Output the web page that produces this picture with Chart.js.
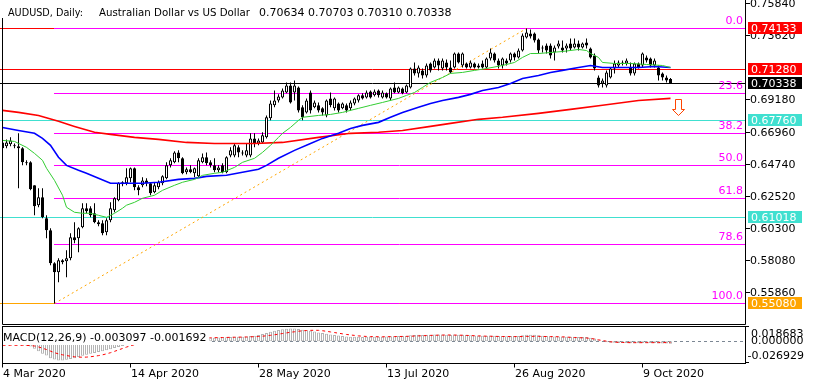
<!DOCTYPE html>
<html><head><meta charset="utf-8">
<script src="https://cdn.jsdelivr.net/npm/chart.js@4.4.1/dist/chart.umd.min.js"></script>
<style>
html,body{margin:0;padding:0;background:#fff;}
#wrap{position:relative;width:815px;height:387px;overflow:hidden;}
canvas{position:absolute;left:0;top:0;}
</style></head><body>
<div id="wrap"><canvas id="main" width="815" height="387"></canvas><canvas id="macd" width="815" height="387"></canvas></div>
<script>
// ---------- DATA ----------
const headerSymbol = 'AUDUSD, Daily:';
const headerName = 'Australian Dollar vs US Dollar';
const dateLabels = ['4 Mar 2020','14 Apr 2020','28 May 2020','13 Jul 2020','26 Aug 2020','9 Oct 2020'];
const dateTickBars = [0,32,64,96,128,160];
const priceTicks = [0.7584,0.7362,0.6918,0.6696,0.6474,0.6252,0.6030,0.5808,0.5586];

const opens = [0.6624,0.6597,0.6611,0.6604,0.6597,0.6583,0.6486,0.6486,0.6327,0.6189,
0.6244,0.6098,0.6015,0.5787,0.5725,0.5808,0.5801,0.5822,0.5967,0.5960,
0.6036,0.6168,0.6168,0.6133,0.6071,0.6064,0.6002,0.6085,0.6154,0.6223,
0.6348,0.6341,0.6375,0.6445,0.6313,0.6327,0.6361,0.6341,0.6279,0.6313,
0.6341,0.6375,0.6465,0.6486,0.6555,0.6514,0.6417,0.6438,0.6410,0.6389,
0.6486,0.6521,0.6486,0.6465,0.6431,0.6465,0.6417,0.6534,0.6534,0.6590,
0.6555,0.6534,0.6534,0.6652,0.6617,0.6624,0.6659,0.6791,0.6881,0.6915,
0.6936,0.6970,0.7019,0.6970,0.7005,0.6867,0.6832,0.6970,0.6867,0.6881,
0.6860,0.6811,0.6929,0.6860,0.6894,0.6860,0.6881,0.6860,0.6894,0.6915,
0.6950,0.6936,0.6977,0.6950,0.6984,0.6936,0.6964,0.6929,0.7005,0.6970,
0.6998,0.6970,0.7005,0.7136,0.7102,0.7123,0.7088,0.7171,0.7143,0.7192,
0.7136,0.7178,0.7143,0.7143,0.7240,0.7157,0.7171,0.7143,0.7171,0.7143,
0.7171,0.7143,0.7206,0.7240,0.7192,0.7157,0.7192,0.7192,0.7240,0.7213,
0.7261,0.7351,0.7379,0.7379,0.7337,0.7275,0.7296,0.7296,0.7247,0.7289,
0.7282,0.7275,0.7310,0.7282,0.7310,0.7282,0.7316,0.7275,0.7226,0.7074,
0.7033,0.7019,0.7074,0.7136,0.7157,0.7178,0.7171,0.7143,0.7102,0.7171,
0.7157,0.7213,0.7206,0.7157,0.7143,0.7102,0.7074,0.70634];
const highs = [0.6638,0.6645,0.6659,0.6617,0.6687,0.6590,0.6500,0.6493,0.6327,0.6306,
0.6306,0.6119,0.6029,0.5794,0.5822,0.5815,0.5877,0.5995,0.6071,0.6036,
0.6202,0.6202,0.6182,0.6202,0.6085,0.6085,0.6098,0.6209,0.6244,0.6348,
0.6355,0.6445,0.6451,0.6451,0.6327,0.6382,0.6375,0.6348,0.6348,0.6361,
0.6396,0.6486,0.6514,0.6562,0.6569,0.6521,0.6451,0.6465,0.6451,0.6514,
0.6548,0.6555,0.6500,0.6514,0.6465,0.6479,0.6528,0.6590,0.6617,0.6604,
0.6569,0.6617,0.6687,0.6687,0.6652,0.6694,0.6811,0.6915,0.6984,0.6957,
0.6998,0.7040,0.7040,0.7053,0.7012,0.6881,0.6929,0.6984,0.6915,0.6901,
0.6867,0.6922,0.6970,0.6936,0.6901,0.6901,0.6894,0.6915,0.6936,0.6957,
0.6964,0.6984,0.6984,0.6991,0.6991,0.6984,0.6970,0.7005,0.7040,0.7012,
0.7005,0.7026,0.7143,0.7178,0.7157,0.7136,0.7171,0.7178,0.7206,0.7206,
0.7206,0.7199,0.7192,0.7247,0.7247,0.7247,0.7178,0.7192,0.7178,0.7171,
0.7192,0.7213,0.7275,0.7247,0.7206,0.7213,0.7206,0.7247,0.7247,0.7275,
0.7379,0.74133,0.7406,0.7386,0.7344,0.7296,0.7310,0.7310,0.7296,0.7330,
0.7330,0.7310,0.7344,0.7344,0.7330,0.7316,0.7344,0.7282,0.7240,0.7088,
0.7067,0.7123,0.7143,0.7192,0.7192,0.7192,0.7206,0.7178,0.7178,0.7178,
0.7247,0.7226,0.7213,0.7206,0.7157,0.7109,0.7088,0.70703];
const lows = [0.6569,0.6583,0.6597,0.6583,0.6306,0.6465,0.6465,0.6292,0.6119,0.6175,
0.6098,0.5960,0.5773,0.5508,0.5656,0.5780,0.5690,0.5808,0.5925,0.5863,
0.6029,0.6133,0.6105,0.6064,0.6043,0.5981,0.5981,0.6071,0.6140,0.6216,
0.6320,0.6327,0.6348,0.6292,0.6258,0.6313,0.6320,0.6258,0.6272,0.6299,
0.6327,0.6368,0.6451,0.6479,0.6486,0.6403,0.6403,0.6410,0.6382,0.6382,
0.6479,0.6465,0.6451,0.6417,0.6417,0.6410,0.6410,0.6521,0.6521,0.6521,
0.6534,0.6521,0.6521,0.6590,0.6604,0.6617,0.6652,0.6777,0.6867,0.6901,
0.6929,0.6964,0.6894,0.6915,0.6832,0.6777,0.6825,0.6825,0.6860,0.6832,
0.6811,0.6798,0.6867,0.6846,0.6832,0.6853,0.6832,0.6846,0.6881,0.6901,
0.6922,0.6929,0.6929,0.6943,0.6936,0.6929,0.6929,0.6915,0.6964,0.6964,
0.6957,0.6964,0.6998,0.7088,0.7074,0.7067,0.7074,0.7109,0.7136,0.7123,
0.7123,0.7123,0.7102,0.7136,0.7171,0.7143,0.7136,0.7136,0.7136,0.7136,
0.7136,0.7136,0.7192,0.7178,0.7136,0.7136,0.7157,0.7178,0.7192,0.7206,
0.7254,0.7344,0.7344,0.7316,0.7240,0.7247,0.7240,0.7206,0.7192,0.7275,
0.7247,0.7247,0.7261,0.7275,0.7261,0.7275,0.7275,0.7206,0.7123,0.7005,
0.7005,0.7005,0.7067,0.7102,0.7143,0.7157,0.7157,0.7088,0.7088,0.7136,
0.7143,0.7178,0.7143,0.7143,0.7053,0.7053,0.7040,0.70310];
const closes = [0.6583,0.6624,0.6638,0.6597,0.6583,0.6486,0.6479,0.6299,0.6182,0.6244,
0.6105,0.6015,0.5787,0.5725,0.5808,0.5794,0.5822,0.5967,0.5946,0.6029,
0.6168,0.6147,0.6119,0.6071,0.6057,0.5995,0.6085,0.6168,0.6237,0.6341,
0.6334,0.6382,0.6445,0.6313,0.6292,0.6361,0.6341,0.6272,0.6327,0.6348,
0.6389,0.6465,0.6500,0.6555,0.6514,0.6410,0.6438,0.6417,0.6445,0.6500,
0.6521,0.6479,0.6465,0.6431,0.6451,0.6417,0.6521,0.6569,0.6604,0.6555,
0.6548,0.6569,0.6652,0.6617,0.6638,0.6673,0.6798,0.6894,0.6915,0.6943,
0.6984,0.7019,0.6901,0.7019,0.6846,0.6798,0.6915,0.6846,0.6901,0.6846,
0.6832,0.6915,0.6881,0.6929,0.6846,0.6894,0.6846,0.6901,0.6929,0.6950,
0.6929,0.6970,0.6936,0.6977,0.6950,0.6970,0.6936,0.6998,0.6970,0.7005,
0.6964,0.7019,0.7136,0.7102,0.7143,0.7088,0.7157,0.7123,0.7192,0.7157,
0.7192,0.7143,0.7109,0.7240,0.7178,0.7240,0.7143,0.7178,0.7143,0.7157,
0.7143,0.7206,0.7247,0.7192,0.7157,0.7206,0.7171,0.7240,0.7213,0.7261,
0.7365,0.7386,0.7358,0.7330,0.7261,0.7282,0.7261,0.7226,0.7282,0.7310,
0.7261,0.7296,0.7275,0.7310,0.7282,0.7310,0.7296,0.7213,0.7136,0.7019,
0.7053,0.7109,0.7136,0.7171,0.7178,0.7171,0.7192,0.7102,0.7171,0.7143,
0.7240,0.7192,0.7157,0.7192,0.7088,0.7074,0.7053,0.70338];

// moving averages (read at sample bars)
const maFastIdx = [0,3,4,6,8,10,11,13,15,16,18,20,22,24,26,28,30,31,33,35,38,40,43,45,48,50,53,55,58,60,63,65,67,69,70,72,74,75,79,82,85,89,92,95,99,101,103,105,107,110,112,115,118,121,125,128,130,132,134,137,140,144,146,147,149,150,153,157,161,165,167];
const maFastVal = [0.6638,0.6631,0.6617,0.6590,0.6548,0.6500,0.6445,0.6361,0.6258,0.6175,0.6140,0.6133,0.6133,0.6119,0.6105,0.6133,0.6168,0.6189,0.6209,0.6237,0.6258,0.6292,0.6327,0.6348,0.6368,0.6396,0.6410,0.6417,0.6451,0.6486,0.6514,0.6555,0.6604,0.6659,0.6687,0.6728,0.6777,0.6798,0.6811,0.6818,0.6832,0.6860,0.6881,0.6901,0.6929,0.6950,0.6970,0.7005,0.7040,0.7074,0.7102,0.7109,0.7123,0.7136,0.7157,0.7178,0.7213,0.7240,0.7240,0.7247,0.7254,0.7268,0.7261,0.7240,0.7213,0.7178,0.7171,0.7171,0.7164,0.7157,0.7143];
const maMidIdx = [0,4,8,10,12,14,16,19,21,24,27,31,35,39,44,48,51,56,60,64,66,69,73,77,80,84,87,90,94,97,100,104,107,110,114,117,120,124,127,130,134,137,140,144,147,150,155,159,163,167];
const maMidVal = [0.6728,0.6707,0.6687,0.6652,0.6604,0.6521,0.6465,0.6431,0.6410,0.6375,0.6341,0.6341,0.6341,0.6348,0.6368,0.6375,0.6389,0.6396,0.6417,0.6438,0.6465,0.6514,0.6569,0.6617,0.6652,0.6687,0.6721,0.6742,0.6763,0.6798,0.6832,0.6867,0.6894,0.6915,0.6936,0.6957,0.6984,0.7005,0.7033,0.7067,0.7088,0.7109,0.7123,0.7143,0.7157,0.7143,0.7143,0.7143,0.7150,0.7143];
const maSlowIdx = [0,4,9,14,18,23,27,33,39,46,53,58,63,70,79,87,94,100,107,112,119,125,134,142,150,159,167];
const maSlowVal = [0.6846,0.6832,0.6811,0.6770,0.6735,0.6694,0.6680,0.6659,0.6645,0.6624,0.6617,0.6617,0.6617,0.6624,0.6659,0.6687,0.6694,0.6707,0.6735,0.6756,0.6784,0.6798,0.6825,0.6853,0.6881,0.6915,0.6929];

// MACD(12,26,9)
const macdHist = [-0.0040,-0.0042,-0.0044,-0.0046,-0.0048,-0.0050,-0.0055,-0.0065,
-0.0095,-0.0128,-0.0159,-0.0180,-0.0214,-0.0231,-0.0243,-0.0245,
-0.0236,-0.0225,-0.0214,-0.0201,-0.0185,-0.0170,-0.0160,-0.0148,
-0.0137,-0.0128,-0.0115,-0.0102,-0.0086,-0.0073,-0.0060,-0.0046,
-0.0033,-0.0022,-0.0012,-0.0003,0.0006,0.0012,0.0018,0.0022,
0.0027,0.0032,0.0036,0.0040,0.0042,0.0040,0.0040,0.0038,
0.0040,0.0042,0.0045,0.0045,0.0044,0.0045,0.0048,0.0050,
0.0052,0.0055,0.0057,0.0057,0.0057,0.0059,0.0065,0.0071,
0.0080,0.0091,0.0105,0.0120,0.0133,0.0144,0.0153,0.0159,
0.0162,0.0160,0.0155,0.0147,0.0139,0.0132,0.0122,0.0112,
0.0103,0.0095,0.0087,0.0079,0.0072,0.0066,0.0061,0.0058,
0.0058,0.0056,0.0055,0.0057,0.0057,0.0058,0.0058,0.0058,
0.0060,0.0063,0.0064,0.0066,0.0066,0.0068,0.0077,0.0080,
0.0081,0.0080,0.0082,0.0082,0.0084,0.0084,0.0084,0.0082,
0.0080,0.0084,0.0082,0.0083,0.0080,0.0077,0.0074,0.0071,
0.0069,0.0070,0.0072,0.0069,0.0066,0.0066,0.0064,0.0066,
0.0066,0.0068,0.0076,0.0082,0.0083,0.0081,0.0075,0.0071,
0.0067,0.0062,0.0060,0.0059,0.0058,0.0057,0.0056,0.0056,
0.0055,0.0055,0.0053,0.0045,0.0035,0.0012,-0.0003,-0.0013,
-0.0018,-0.0020,-0.0021,-0.0022,-0.0021,-0.0024,-0.0024,-0.0024,
-0.0021,-0.0021,-0.0022,-0.0023,-0.0027,-0.0029,-0.0030,-0.003097];
const macdSignal = [-0.0051,-0.0051,-0.0051,-0.0051,-0.0051,-0.0052,-0.0053,-0.0055,
-0.0060,-0.0072,-0.0088,-0.0105,-0.0125,-0.0145,-0.0160,-0.0172,
-0.0181,-0.0190,-0.0197,-0.0201,-0.0202,-0.0201,-0.0196,-0.0190,
-0.0182,-0.0172,-0.0160,-0.0145,-0.0128,-0.0110,-0.0092,-0.0074,
-0.0057,-0.0044,-0.0033,-0.0022,-0.0012,-0.0004,0.0004,0.0010,
0.0016,0.0020,0.0025,0.0029,0.0032,0.0035,0.0037,0.0038,
0.0039,0.0040,0.0042,0.0043,0.0044,0.0045,0.0046,0.0047,
0.0048,0.0050,0.0051,0.0052,0.0053,0.0054,0.0056,0.0058,
0.0060,0.0064,0.0069,0.0075,0.0082,0.0090,0.0098,0.0106,
0.0114,0.0120,0.0127,0.0132,0.0136,0.0138,0.0139,0.0138,
0.0133,0.0126,0.0118,0.0110,0.0102,0.0094,0.0086,0.0080,
0.0074,0.0068,0.0064,0.0061,0.0059,0.0058,0.0057,0.0057,
0.0057,0.0058,0.0059,0.0060,0.0061,0.0062,0.0064,0.0066,
0.0068,0.0070,0.0072,0.0074,0.0076,0.0077,0.0078,0.0079,
0.0079,0.0078,0.0077,0.0076,0.0074,0.0072,0.0070,0.0068,
0.0066,0.0064,0.0063,0.0062,0.0061,0.0060,0.0060,0.0059,
0.0059,0.0059,0.0060,0.0061,0.0062,0.0062,0.0062,0.0061,
0.0060,0.0059,0.0058,0.0057,0.0056,0.0053,0.0050,0.0047,
0.0045,0.0043,0.0041,0.0036,0.0028,0.0018,0.0009,0.0001,
-0.0007,-0.0011,-0.0014,-0.0016,-0.0017,-0.0018,-0.0018,-0.0018,
-0.0018,-0.0018,-0.0018,-0.0018,-0.0017,-0.0017,-0.0017,-0.001692];
const macdAxisVals = [0.018683, 0.0, -0.026929];

// horizontal price levels and their colours
const levelPrices = [0.74133, 0.71280, 0.70338, 0.67760, 0.61018, 0.55080];
const levelColors = ['#ff0000','#ff0000','#000000','#40e0d0','#40e0d0','#ffa500'];
// Fibonacci retracement
const fibHigh = 0.74133, fibLow = 0.55080, fibHighBar = 131, fibLowBar = 13;
const fibLevels = [0, 23.6, 38.2, 50, 61.8, 78.6, 100];
// arrow object
const arrowBar = 169, arrowPrice = 0.6918;

// ---------- RENDER ----------
const FONT = '11px "DejaVu Sans"';
const N = opens.length;
const idx = opens.map((_, i) => i);
const crisp = v => Math.floor(v) + 0.5;
const fibPrice = l => fibHigh - (fibHigh - fibLow) * l / 100;
const X_MIN = -0.125, X_MAX = 185.625;

const wickData = idx.map(i => ({x: i, y: [lows[i], highs[i]]}));
const bodyData = idx.map(i => ({x: i, y: [opens[i], closes[i]]}));
const bodyFill = idx.map(i => closes[i] >= opens[i] ? '#ffffff' : '#000000');
const pts = (ix, v) => ix.map((x, k) => ({x, y: v[k]}));

const mainDecor = {
  id: 'mainDecor',
  beforeDatasetsDraw(chart) {
    const {ctx, chartArea: a} = chart; const xs = chart.scales.x, ys = chart.scales.y;
    ctx.save();
    ctx.beginPath(); ctx.rect(0, a.top, a.right, a.bottom - a.top); ctx.clip();
    ctx.lineWidth = 1;
    levelPrices.forEach((p, k) => {
      const yy = crisp(ys.getPixelForValue(p));
      ctx.strokeStyle = levelColors[k];
      ctx.beginPath(); ctx.moveTo(0, yy); ctx.lineTo(a.right, yy); ctx.stroke();
    });
    const fx = Math.floor(xs.getPixelForValue(fibLowBar));
    ctx.strokeStyle = '#ff00ff';
    fibLevels.forEach(l => {
      const yy = crisp(ys.getPixelForValue(fibPrice(l)));
      ctx.beginPath(); ctx.moveTo(fx, yy); ctx.lineTo(a.right, yy); ctx.stroke();
    });
    ctx.strokeStyle = '#ffa500'; ctx.setLineDash([2, 3]);
    ctx.beginPath();
    ctx.moveTo(xs.getPixelForValue(fibLowBar), ys.getPixelForValue(fibLow));
    ctx.lineTo(xs.getPixelForValue(fibHighBar), ys.getPixelForValue(fibHigh));
    ctx.stroke();
    ctx.restore();
  },
  afterDraw(chart) {
    const {ctx, chartArea: a} = chart; const xs = chart.scales.x, ys = chart.scales.y;
    ctx.save();
    ctx.font = FONT; ctx.textBaseline = 'middle'; ctx.lineWidth = 1;
    // fib level labels
    ctx.fillStyle = '#ff00ff'; ctx.textAlign = 'right';
    fibLevels.forEach(l => {
      const r = Math.floor(ys.getPixelForValue(fibPrice(l)));
      ctx.fillText(l.toFixed(1), a.right - 2, r - 7);
    });
    // arrow
    const ax = crisp(xs.getPixelForValue(arrowBar)), ay = crisp(ys.getPixelForValue(arrowPrice));
    ctx.strokeStyle = '#ff4500'; ctx.fillStyle = '#ffffff';
    ctx.beginPath();
    ctx.moveTo(ax - 3, ay); ctx.lineTo(ax + 3, ay); ctx.lineTo(ax + 3, ay + 10);
    ctx.lineTo(ax + 6, ay + 10); ctx.lineTo(ax, ay + 16); ctx.lineTo(ax - 6, ay + 10);
    ctx.lineTo(ax - 3, ay + 10); ctx.closePath(); ctx.fill(); ctx.stroke();
    // header
    ctx.textAlign = 'left';
    const hdrOHLC = [opens[N-1], highs[N-1], lows[N-1], closes[N-1]].map(v => v.toFixed(5)).join(' ');
    ctx.fillStyle = '#ffffff';
    ctx.fillRect(0, 0, 262 + ctx.measureText(hdrOHLC).width, 18);
    ctx.fillStyle = '#000000';
    ctx.fillText(headerSymbol, 8, 13, 75);
    ctx.fillText(headerName, 99, 13, 151);
    ctx.fillText(hdrOHLC, 259, 13);
    // panel frame
    ctx.strokeStyle = '#000000';
    ctx.beginPath();
    ctx.moveTo(a.left + 0.5, 18); ctx.lineTo(a.left + 0.5, a.bottom + 0.5);
    ctx.lineTo(a.right + 0.5, a.bottom + 0.5); ctx.lineTo(a.right + 0.5, 0);
    ctx.stroke();
    // price axis
    ctx.fillStyle = '#000000';
    priceTicks.forEach(p => {
      const yy = crisp(ys.getPixelForValue(p));
      ctx.beginPath(); ctx.moveTo(a.right, yy); ctx.lineTo(a.right + 5, yy); ctx.stroke();
      ctx.fillText(p.toFixed(5), a.right + 5, yy + 1);
    });
    // coloured level labels
    levelPrices.forEach((p, k) => {
      const r = Math.floor(ys.getPixelForValue(p));
      ctx.fillStyle = levelColors[k];
      ctx.fillRect(a.right + 3, r - 6, 54, 12);
      ctx.fillStyle = '#ffffff';
      ctx.fillText(p.toFixed(5), a.right + 6, r + 1);
    });
    ctx.restore();
  }
};

new Chart(document.getElementById('main'), {
  type: 'bar',
  data: {
    datasets: [
      {type: 'line', data: pts(maFastIdx, maFastVal), borderColor: '#32cd32', borderWidth: 1, pointRadius: 0, order: 1},
      {type: 'line', data: pts(maMidIdx, maMidVal), borderColor: '#0000ff', borderWidth: 1.6, pointRadius: 0, order: 2},
      {type: 'line', data: pts(maSlowIdx, maSlowVal), borderColor: '#ff0000', borderWidth: 1.6, pointRadius: 0, order: 3},
      {type: 'bar', data: bodyData, backgroundColor: bodyFill, borderColor: '#000000', borderWidth: 1,
       borderSkipped: false, barThickness: 3, minBarLength: 1, grouped: false, inflateAmount: 0, order: 5},
      {type: 'bar', data: wickData, backgroundColor: '#000000', borderWidth: 0,
       barThickness: 1, grouped: false, inflateAmount: 0, order: 6}
    ]
  },
  options: {
    responsive: false, animation: false, devicePixelRatio: 1,
    layout: {padding: {left: 2, right: 70, top: 0, bottom: 63}},
    plugins: {legend: {display: false}, tooltip: {enabled: false}},
    scales: {
      x: {type: 'linear', display: false, min: X_MIN, max: X_MAX, offset: false},
      y: {type: 'linear', display: false, min: 0.53659, max: 0.76108}
    }
  },
  plugins: [mainDecor]
});

const macdDecor = {
  id: 'macdDecor',
  beforeDatasetsDraw(chart) {
    const {ctx, chartArea: a} = chart; const ys = chart.scales.y;
    ctx.save();
    const y0 = crisp(ys.getPixelForValue(0));
    ctx.strokeStyle = '#7c8794'; ctx.lineWidth = 1; ctx.setLineDash([3, 3]);
    ctx.beginPath(); ctx.moveTo(a.left, y0); ctx.lineTo(a.right, y0); ctx.stroke();
    ctx.restore();
  },
  afterDraw(chart) {
    const {ctx, chartArea: a} = chart; const xs = chart.scales.x, ys = chart.scales.y;
    ctx.save();
    ctx.font = FONT; ctx.textBaseline = 'middle'; ctx.textAlign = 'left'; ctx.lineWidth = 1;
    // indicator label
    const lbl = 'MACD(12,26,9) ' + macdHist[N-1].toFixed(6) + ' ' + macdSignal[N-1].toFixed(6);
    const w = ctx.measureText(lbl).width;
    ctx.fillStyle = '#ffffff'; ctx.fillRect(a.left + 1, 332, w + 3, 13);
    ctx.fillStyle = '#000000'; ctx.fillText(lbl, 3, 338.5);
    // frame
    ctx.strokeStyle = '#000000';
    ctx.strokeRect(a.left + 0.5, a.top + 0.5, a.right - a.left, a.bottom - a.top);
    // value axis
    macdAxisVals.forEach((v, k) => {
      const yy = crisp(ys.getPixelForValue(v));
      let ty = yy;
      if (k === 0) { ty = yy + 7.5; ctx.beginPath(); ctx.moveTo(a.right, yy); ctx.lineTo(a.right + 4, yy); ctx.stroke(); }
      if (k === macdAxisVals.length - 1) { ty = yy - 6.5; ctx.beginPath(); ctx.moveTo(a.right, yy); ctx.lineTo(a.right + 4, yy); ctx.stroke(); }
      const s = v.toFixed(6);
      ctx.fillText(s, v < 0 ? a.right + 2.5 : a.right + 6, ty);
    });
    // time axis
    dateTickBars.forEach((b, k) => {
      const tx = crisp(xs.getPixelForValue(b));
      ctx.beginPath(); ctx.moveTo(tx, a.bottom); ctx.lineTo(tx, a.bottom + 4.5); ctx.stroke();
      ctx.fillText(dateLabels[k], tx + 0.5, 374.5);
    });
    ctx.restore();
  }
};

new Chart(document.getElementById('macd'), {
  type: 'bar',
  data: {
    datasets: [
      {type: 'line', data: idx.map(i => ({x: i, y: macdSignal[i]})), borderColor: '#ff0000', borderWidth: 1,
       borderDash: [3, 3], pointRadius: 0, order: 1},
      {type: 'bar', data: idx.map(i => ({x: i, y: macdHist[i]})), backgroundColor: '#ffffff', borderColor: '#b4b4b4',
       borderWidth: 1, borderSkipped: false, barThickness: 3, grouped: false, inflateAmount: 0, order: 2}
    ]
  },
  options: {
    responsive: false, animation: false, devicePixelRatio: 1,
    layout: {padding: {left: 2, right: 70, top: 326, bottom: 24}},
    plugins: {legend: {display: false}, tooltip: {enabled: false}},
    scales: {
      x: {type: 'linear', display: false, min: X_MIN, max: X_MAX, offset: false},
      y: {type: 'linear', display: false, min: -0.027562, max: 0.019317}
    }
  },
  plugins: [macdDecor]
});
</script>
</body></html>
